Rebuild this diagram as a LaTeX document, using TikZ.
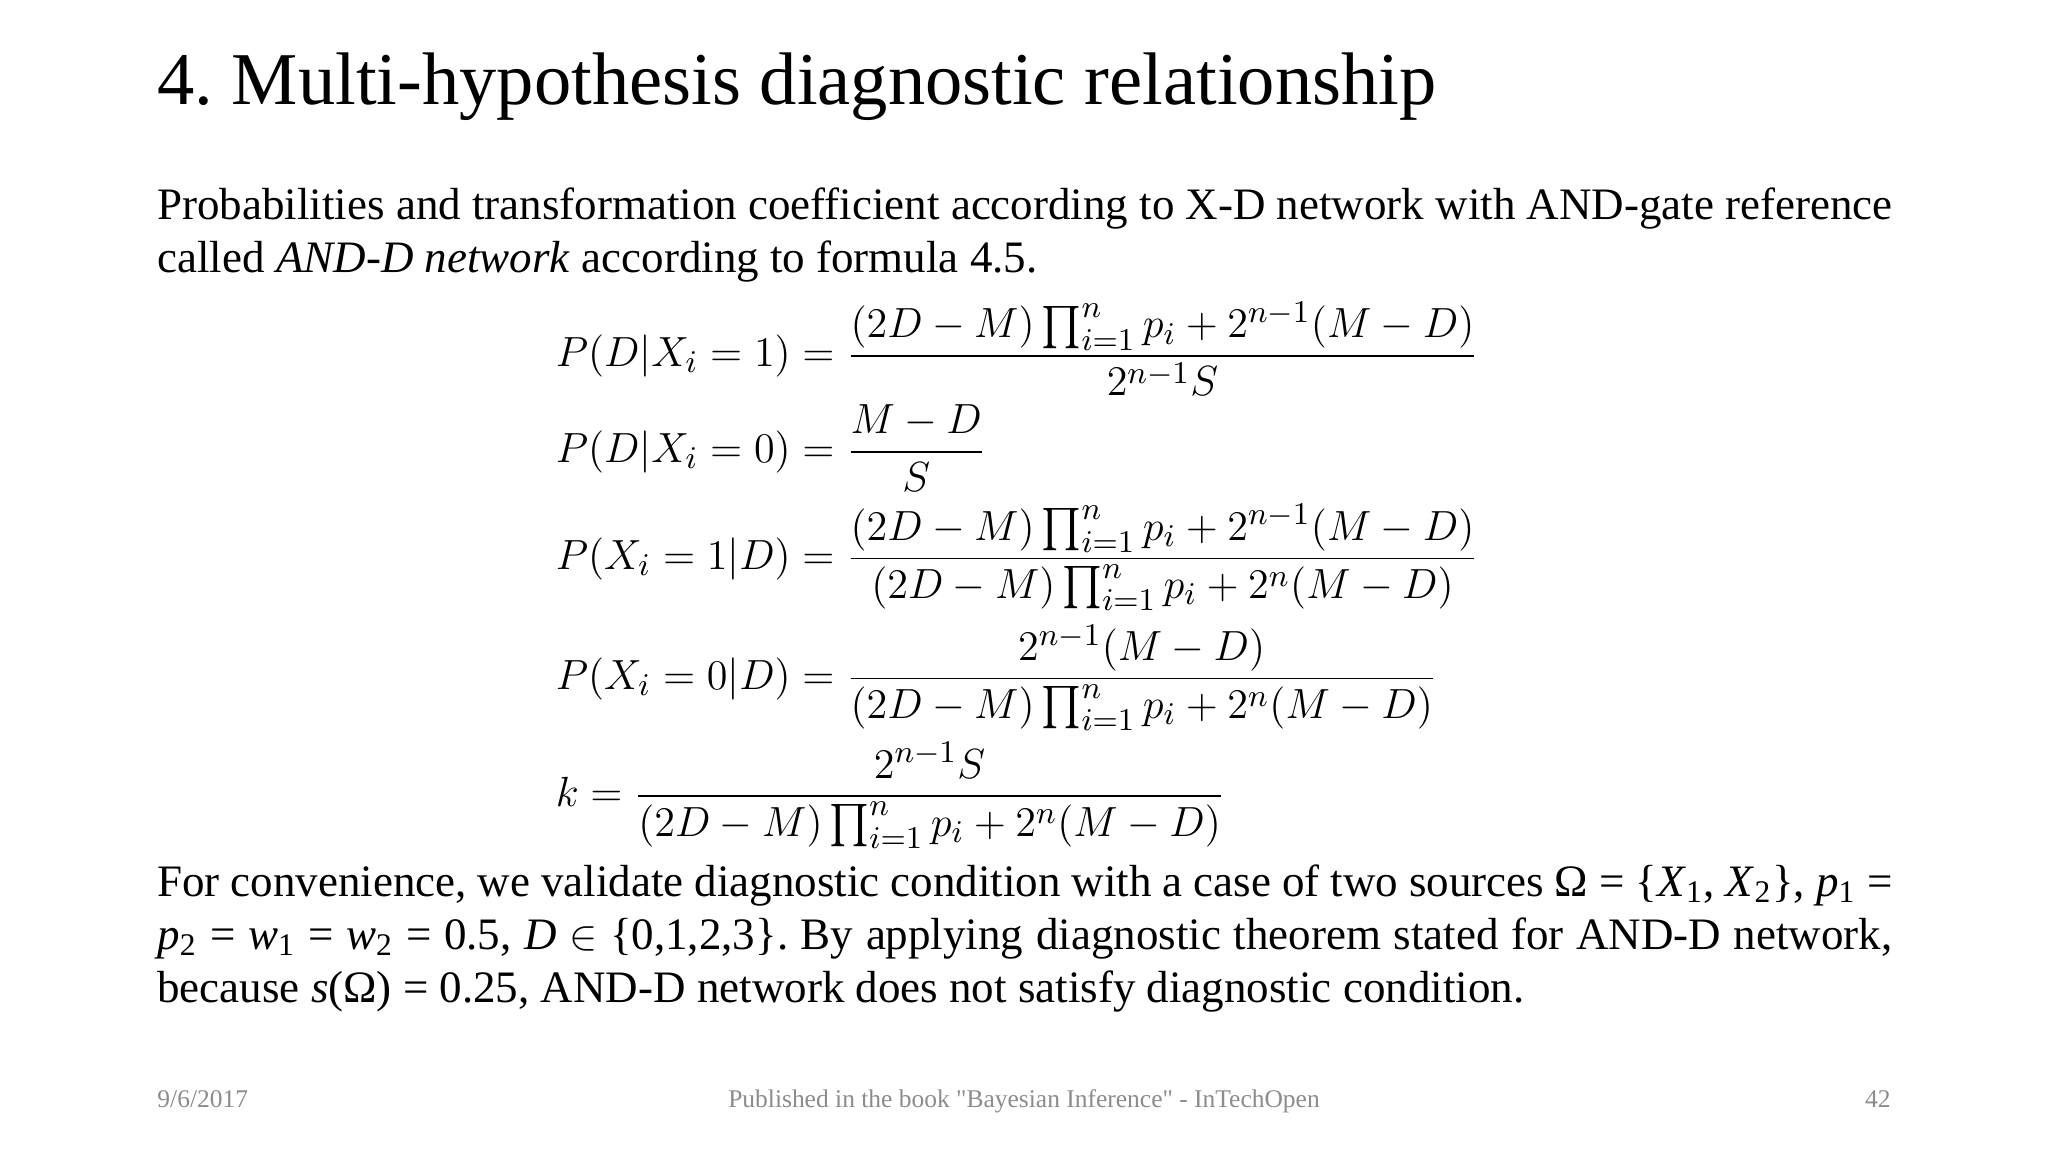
\documentclass[tikz,border=0pt]{standalone}
\usepackage{fontspec}
\setmainfont{Liberation Serif}
\usepackage{amsmath}
\frenchspacing
\newcommand{\tsub}[1]{\textsubscript{#1}}
\begin{document}
\begin{tikzpicture}[x=0.013061cm,y=-0.013061cm,
  body/.style={anchor=base west,inner sep=0pt,font=\fontsize{12.8}{15.2}\selectfont},
  eq/.style={anchor=west,inner sep=0pt,font=\fontsize{12.7}{15}\selectfont},
  foot/.style={inner sep=0pt,text=black!45,font=\fontsize{7.25}{9}\selectfont}]
\useasboundingbox[fill=white] (0,0) rectangle (1568,882);
\node[body,font=\fontsize{21.2}{26}\selectfont] (title) at (120,80) {4. Multi-hypothesis diagnostic relationship};
\node[body,text width=17.35cm,align=justify] (p1) at (120,168)
 {Probabilities and transformation coefficient according to X-D network with AND-gate reference called \textit{AND-D network} according to formula 4.5.};
\node[eq] (e1) at (425,267) {$\displaystyle P(D|X_i=1)=\frac{(2D-M)\prod_{i=1}^n p_i+2^{n-1}(M-D)}{2^{n-1}S}$};
\node[eq] (e2) at (425,343) {$\displaystyle P(D|X_i=0)=\frac{M-D}{S}$};
\node[eq] (e3) at (425,427) {$\displaystyle P(X_i=1|D)=\frac{(2D-M)\prod_{i=1}^n p_i+2^{n-1}(M-D)}{(2D-M)\prod_{i=1}^n p_i+2^{n}(M-D)}$};
\node[eq] (e4) at (425,519) {$\displaystyle P(X_i=0|D)=\frac{2^{n-1}(M-D)}{(2D-M)\prod_{i=1}^n p_i+2^{n}(M-D)}$};
\node[eq] (e5) at (425,609) {$\displaystyle k=\frac{2^{n-1}S}{(2D-M)\prod_{i=1}^n p_i+2^{n}(M-D)}$};
\node[body,text width=17.35cm,align=justify] (p2) at (120,686)
 {For convenience, we validate diagnostic condition with a case of two sources Ω = \{\textit{X}\tsub{1}, \textit{X}\tsub{2}\}, \textit{p}\tsub{1} =\linebreak \textit{p}\tsub{2} = \textit{w}\tsub{1} = \textit{w}\tsub{2} = 0.5, \textit{D} $\in$ \{0,1,2,3\}. By applying diagnostic theorem stated for AND-D network,\linebreak because \textit{s}(Ω) = 0.25, AND-D network does not satisfy diagnostic condition.};
\node[foot,anchor=base west] (date) at (120,848) {9/6/2017};
\node[foot,anchor=base] (src) at (784,848) {Published in the book \textquotedbl Bayesian Inference\textquotedbl\ - InTechOpen};
\node[foot,anchor=base east] (pg) at (1448,848) {42};
\end{tikzpicture}
\end{document}
